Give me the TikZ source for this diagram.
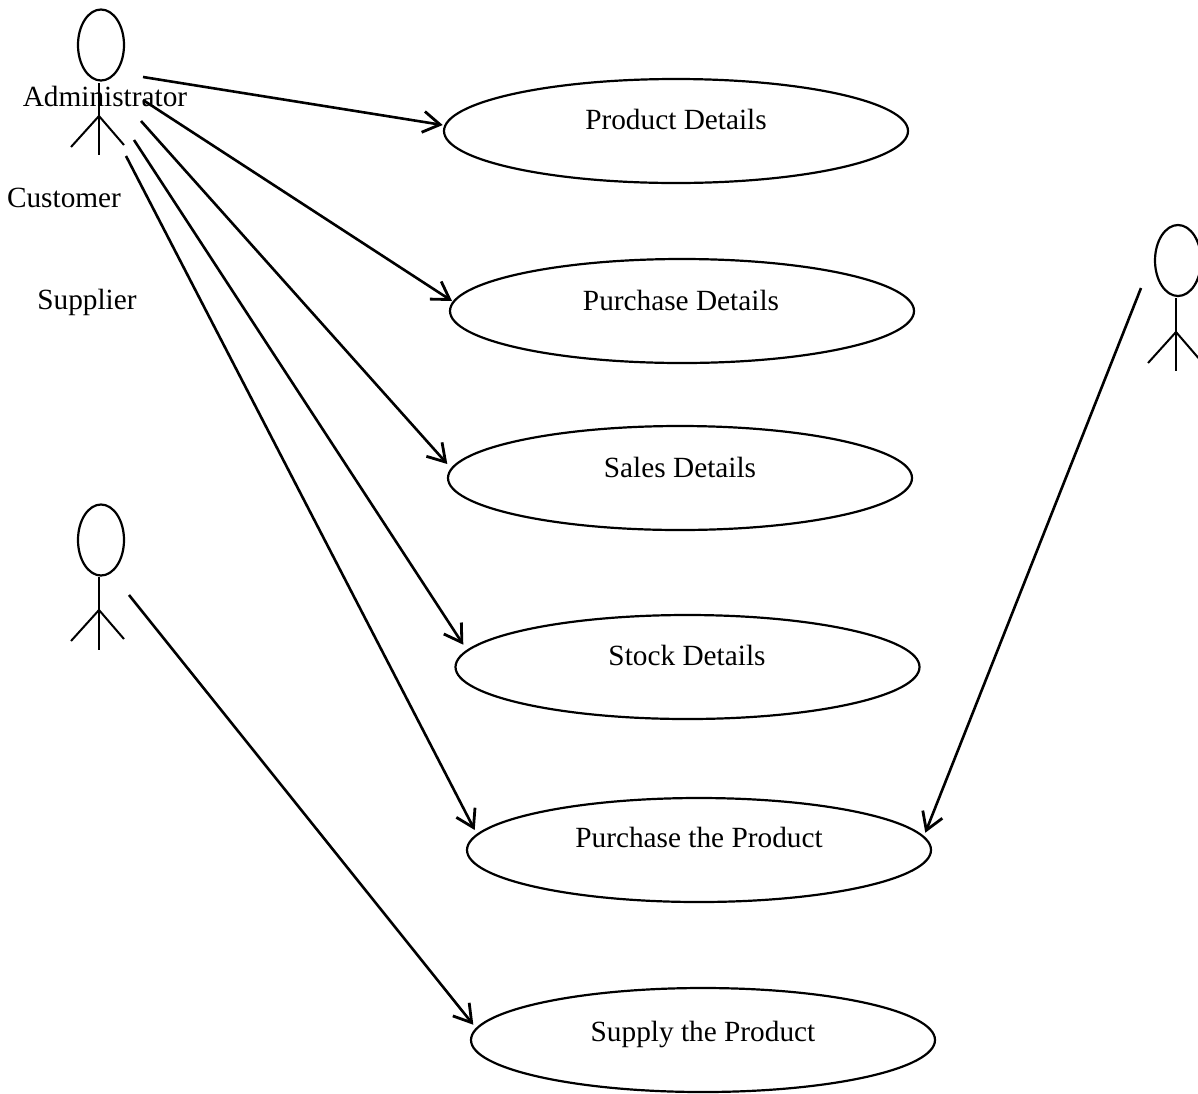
\documentclass[tikz,border=0pt]{standalone}
\usepackage{fontspec}
\setmainfont{Liberation Serif}
\usetikzlibrary{shapes.geometric,arrows.meta}
\tikzset{
  usecase/.style={draw=black,shape=ellipse,line width=2.2pt,minimum width=464pt,minimum height=104pt,inner sep=0pt,outer sep=0pt},
  head/.style={draw=black,shape=ellipse,line width=2.2pt,minimum width=46pt,minimum height=71pt,inner sep=0pt,outer sep=0pt},
  limb/.style={draw=black,line width=2pt},
  link/.style={draw=black,line width=2.6pt,-{Straight Barb[length=17pt,width=21pt,line width=2.8pt]}},
  txt/.style={anchor=base,inner sep=0pt,font=\fontsize{29.3}{34}\selectfont,text=black}
}
\begin{document}
\begin{tikzpicture}[x=1pt,y=-1pt]
\useasboundingbox (0,0) rectangle (1198,1093);
% use cases
\node[usecase] (e1) at (676,131) {};
\node[usecase] (e2) at (682,311) {};
\node[usecase] (e3) at (680,478) {};
\node[usecase] (e4) at (687.5,667) {};
\node[usecase] (e5) at (699,850) {};
\node[usecase] (e6) at (703,1040) {};
\node[txt] (t1) at (676,129) {Product Details};
\node[txt] (t2) at (681,310) {Purchase Details};
\node[txt] (t3) at (680,477) {Sales Details};
\node[txt] (t4) at (687,665) {Stock Details};
\node[txt] (t5) at (699,847) {Purchase the Product};
\node[txt] (t6) at (703,1041) {Supply the Product};
% actor 1
\node[head] (h1) at (101,45) {};
\coordinate (n1) at (99,83);
\coordinate (j1) at (99,116);
\coordinate (f1) at (99,155);
\coordinate (la1) at (71,147);
\coordinate (ra1) at (124,145);
\draw[limb] (n1) -- (f1);
\draw[limb] (la1) -- (j1) -- (ra1);
% actor 2
\node[head] (h2) at (101,540) {};
\coordinate (n2) at (99,577);
\coordinate (j2) at (99,610);
\coordinate (f2) at (99,650);
\coordinate (la2) at (71,641);
\coordinate (ra2) at (124,639);
\draw[limb] (n2) -- (f2);
\draw[limb] (la2) -- (j2) -- (ra2);
% actor 3
\node[head] (h3) at (1178,260.5) {};
\coordinate (n3) at (1176,298);
\coordinate (j3) at (1176,332);
\coordinate (f3) at (1176,371);
\coordinate (la3) at (1148,363);
\coordinate (ra3) at (1201,361);
\draw[limb] (n3) -- (f3);
\draw[limb] (la3) -- (j3) -- (ra3);
% labels
\node[txt] (ladm) at (105,106) {Administrator};
\node[txt] (lcus) at (64,207) {Customer};
\node[txt] (lsup) at (87,309) {Supplier};
% connector starts
\coordinate (s1) at (143,77);
\coordinate (s2) at (143,100);
\coordinate (s3) at (141,121);
\coordinate (s4) at (134,140);
\coordinate (s5) at (126,156);
\coordinate (s6) at (1141,288);
\coordinate (s7) at (129,595);
% connectors
\draw[link] (s1) -- ([shift={(-233.3,-6)}]e1.center);
\draw[link] (s2) -- ([shift={(-230,-10)}]e2.center);
\draw[link] (s3) -- ([shift={(-232.7,-14)}]e3.center);
\draw[link] (s4) -- ([shift={(-224.2,-22.3)}]e4.center);
\draw[link] (s5) -- ([shift={(-224.3,-20)}]e5.center);
\draw[link] (s6) -- ([shift={(226.3,-17.3)}]e5.center);
\draw[link] (s7) -- ([shift={(-229.7,-15.3)}]e6.center);
\end{tikzpicture}
\end{document}
